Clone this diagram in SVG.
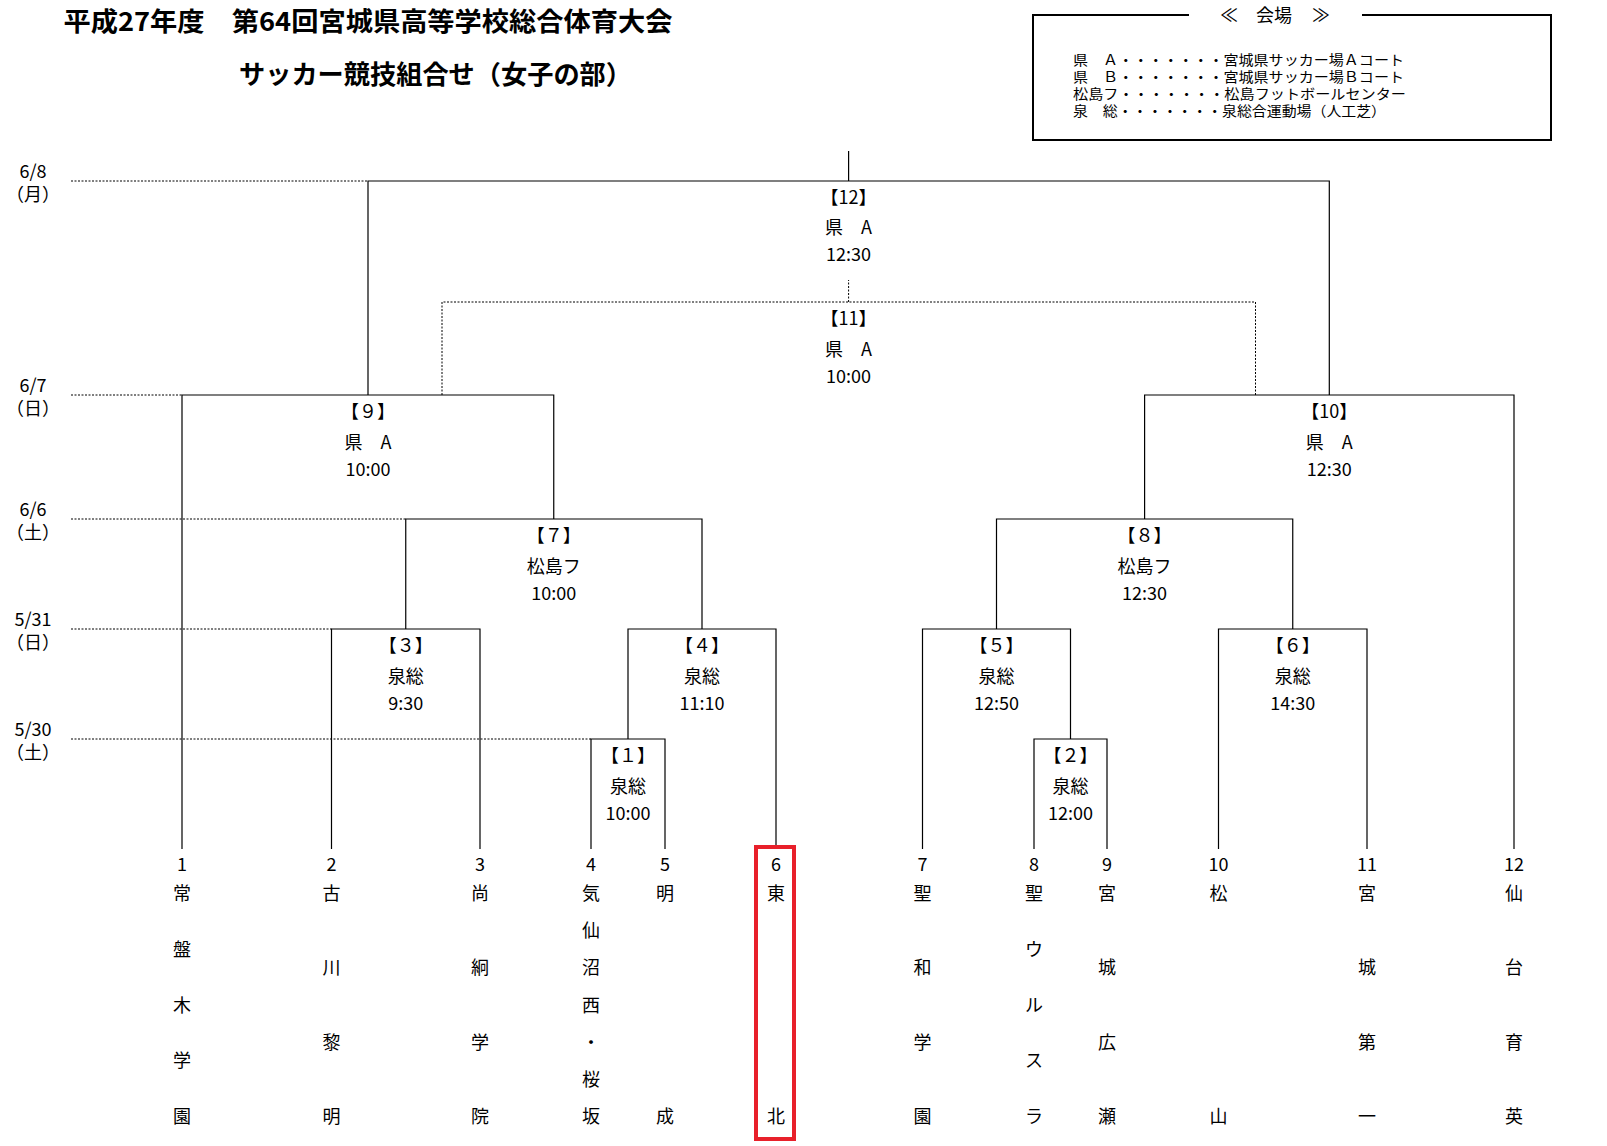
<svg xmlns="http://www.w3.org/2000/svg" width="1607" height="1146" viewBox="0 0 1607 1146">
<style>
.ln{fill:none;stroke:#000;stroke-width:1.2}
.dt{fill:none;stroke:#000;stroke-width:1;stroke-dasharray:2 1.5}
.box{fill:none;stroke:#000;stroke-width:2}
text{font-family:"Noto Sans CJK JP","Liberation Sans",sans-serif;fill:#000;dominant-baseline:central}
.t{font-size:18px;text-anchor:middle}
.lg{font-size:14px}
.ttl{font-size:26px;font-weight:bold}
.hl{fill:none;stroke:#e8202a;stroke-width:4}
</style>
<rect width="1607" height="1146" fill="#fff"/>
<g id="title">
<text class="ttl" x="63.5" y="19.5" textLength="609" lengthAdjust="spacingAndGlyphs">平成27年度　第64回宮城県高等学校総合体育大会</text>
<text class="ttl" x="239" y="72" textLength="393" lengthAdjust="spacingAndGlyphs">サッカー競技組合せ（女子の部）</text>
</g>
<g id="legend">
<path class="box" d="M1189 15H1033V140H1551V15H1362"/>
<text class="t" x="1229" y="14">≪</text>
<text class="t" x="1274" y="14">会場</text>
<text class="t" x="1321" y="14">≫</text>
<text class="lg" x="1073" y="59" textLength="331" lengthAdjust="spacingAndGlyphs">県　Ａ・・・・・・・宮城県サッカー場Ａコート</text>
<text class="lg" x="1073" y="76" textLength="331" lengthAdjust="spacingAndGlyphs">県　Ｂ・・・・・・・宮城県サッカー場Ｂコート</text>
<text class="lg" x="1073" y="93" textLength="333" lengthAdjust="spacingAndGlyphs">松島フ・・・・・・・松島フットボールセンター</text>
<text class="lg" x="1073" y="110" textLength="313" lengthAdjust="spacingAndGlyphs">泉　総・・・・・・・泉総合運動場（人工芝）</text>
</g>
<g id="dates">
<path class="dt" d="M71 181H368M71 395H182M71 519H405.5M71 629H331.5M71 739H591"/>
<g transform="translate(0,-2)">
<text class="t" x="33" y="171.5">6/8</text><text class="t" x="33" y="195">（月）</text>
<text class="t" x="33" y="385.5">6/7</text><text class="t" x="33" y="409">（日）</text>
<text class="t" x="33" y="509.5">6/6</text><text class="t" x="33" y="533">（土）</text>
<text class="t" x="33" y="619.5">5/31</text><text class="t" x="33" y="643">（日）</text>
<text class="t" x="33" y="729.5">5/30</text><text class="t" x="33" y="753">（土）</text>
</g>
</g>
<g id="connectors">
<path class="ln" d="M591 849V739H665V849"/>
<path class="ln" d="M1034 849V739H1107V849"/>
<path class="ln" d="M331.5 849V629H480V849"/>
<path class="ln" d="M628 739V629H776V849"/>
<path class="ln" d="M922.5 849V629H1070.5V739"/>
<path class="ln" d="M1218.5 849V629H1367V849"/>
<path class="ln" d="M405.75 629V519H702V629"/>
<path class="ln" d="M996.5 629V519H1292.75V629"/>
<path class="ln" d="M182 849V395H553.75V519"/>
<path class="ln" d="M1144.6 519V395H1514V849"/>
<path class="ln" d="M368 395V181H1329.3V395"/>
<path class="ln" d="M848.6 181V151"/>
<path class="dt" d="M442 395V302H1255.5V395M848.6 302V280"/>
</g>
<g id="nodes" transform="translate(0,-2)">
<g id="m12"><text class="t" x="848.6" y="198">【12】</text><text class="t" x="848.6" y="228">県　A</text><text class="t" x="848.6" y="255">12:30</text></g>
<g id="m11"><text class="t" x="848.6" y="319">【11】</text><text class="t" x="848.6" y="350">県　A</text><text class="t" x="848.6" y="377">10:00</text></g>
<g id="m9"><text class="t" x="368" y="412">【９】</text><text class="t" x="368" y="443">県　A</text><text class="t" x="368" y="470">10:00</text></g>
<g id="m10"><text class="t" x="1329.3" y="412">【10】</text><text class="t" x="1329.3" y="443">県　A</text><text class="t" x="1329.3" y="470">12:30</text></g>
<g id="m7"><text class="t" x="553.75" y="536">【７】</text><text class="t" x="553.75" y="567">松島フ</text><text class="t" x="553.75" y="594">10:00</text></g>
<g id="m8"><text class="t" x="1144.6" y="536">【８】</text><text class="t" x="1144.6" y="567">松島フ</text><text class="t" x="1144.6" y="594">12:30</text></g>
<g id="m3"><text class="t" x="405.75" y="646">【３】</text><text class="t" x="405.75" y="677">泉総</text><text class="t" x="405.75" y="704">9:30</text></g>
<g id="m4"><text class="t" x="702" y="646">【４】</text><text class="t" x="702" y="677">泉総</text><text class="t" x="702" y="704">11:10</text></g>
<g id="m5"><text class="t" x="996.5" y="646">【５】</text><text class="t" x="996.5" y="677">泉総</text><text class="t" x="996.5" y="704">12:50</text></g>
<g id="m6"><text class="t" x="1292.75" y="646">【６】</text><text class="t" x="1292.75" y="677">泉総</text><text class="t" x="1292.75" y="704">14:30</text></g>
<g id="m1"><text class="t" x="628" y="756">【１】</text><text class="t" x="628" y="787">泉総</text><text class="t" x="628" y="814">10:00</text></g>
<g id="m2"><text class="t" x="1070.5" y="756">【２】</text><text class="t" x="1070.5" y="787">泉総</text><text class="t" x="1070.5" y="814">12:00</text></g>
<g id="team1"><text class="t" x="182" y="865">1</text><text class="t"><tspan x="182" y="894">常</tspan><tspan x="182" y="949.75">盤</tspan><tspan x="182" y="1005.5">木</tspan><tspan x="182" y="1061.25">学</tspan><tspan x="182" y="1117">園</tspan></text></g>
<g id="team2"><text class="t" x="331.5" y="865">2</text><text class="t"><tspan x="331.5" y="894">古</tspan><tspan x="331.5" y="968.3">川</tspan><tspan x="331.5" y="1042.7">黎</tspan><tspan x="331.5" y="1117">明</tspan></text></g>
<g id="team3"><text class="t" x="480" y="865">3</text><text class="t"><tspan x="480" y="894">尚</tspan><tspan x="480" y="968.3">絅</tspan><tspan x="480" y="1042.7">学</tspan><tspan x="480" y="1117">院</tspan></text></g>
<g id="team4"><text class="t" x="591" y="865">4</text><text class="t"><tspan x="591" y="894">気</tspan><tspan x="591" y="931.2">仙</tspan><tspan x="591" y="968.3">沼</tspan><tspan x="591" y="1005.5">西</tspan><tspan x="591" y="1042.7">・</tspan><tspan x="591" y="1079.8">桜</tspan><tspan x="591" y="1117">坂</tspan></text></g>
<g id="team5"><text class="t" x="665" y="865">5</text><text class="t"><tspan x="665" y="894">明</tspan><tspan x="665" y="1117">成</tspan></text></g>
<g id="team6"><text class="t" x="776" y="865">6</text><text class="t"><tspan x="776" y="894">東</tspan><tspan x="776" y="1117">北</tspan></text><rect class="hl" x="756" y="849" width="38" height="292"/></g>
<g id="team7"><text class="t" x="922.5" y="865">7</text><text class="t"><tspan x="922.5" y="894">聖</tspan><tspan x="922.5" y="968.3">和</tspan><tspan x="922.5" y="1042.7">学</tspan><tspan x="922.5" y="1117">園</tspan></text></g>
<g id="team8"><text class="t" x="1034" y="865">8</text><text class="t"><tspan x="1034" y="894">聖</tspan><tspan x="1034" y="949.75">ウ</tspan><tspan x="1034" y="1005.5">ル</tspan><tspan x="1034" y="1061.25">ス</tspan><tspan x="1034" y="1117">ラ</tspan></text></g>
<g id="team9"><text class="t" x="1107" y="865">9</text><text class="t"><tspan x="1107" y="894">宮</tspan><tspan x="1107" y="968.3">城</tspan><tspan x="1107" y="1042.7">広</tspan><tspan x="1107" y="1117">瀬</tspan></text></g>
<g id="team10"><text class="t" x="1218.5" y="865">10</text><text class="t"><tspan x="1218.5" y="894">松</tspan><tspan x="1218.5" y="1117">山</tspan></text></g>
<g id="team11"><text class="t" x="1367" y="865">11</text><text class="t"><tspan x="1367" y="894">宮</tspan><tspan x="1367" y="968.3">城</tspan><tspan x="1367" y="1042.7">第</tspan><tspan x="1367" y="1117">一</tspan></text></g>
<g id="team12"><text class="t" x="1514" y="865">12</text><text class="t"><tspan x="1514" y="894">仙</tspan><tspan x="1514" y="968.3">台</tspan><tspan x="1514" y="1042.7">育</tspan><tspan x="1514" y="1117">英</tspan></text></g>
</g>
</svg>
